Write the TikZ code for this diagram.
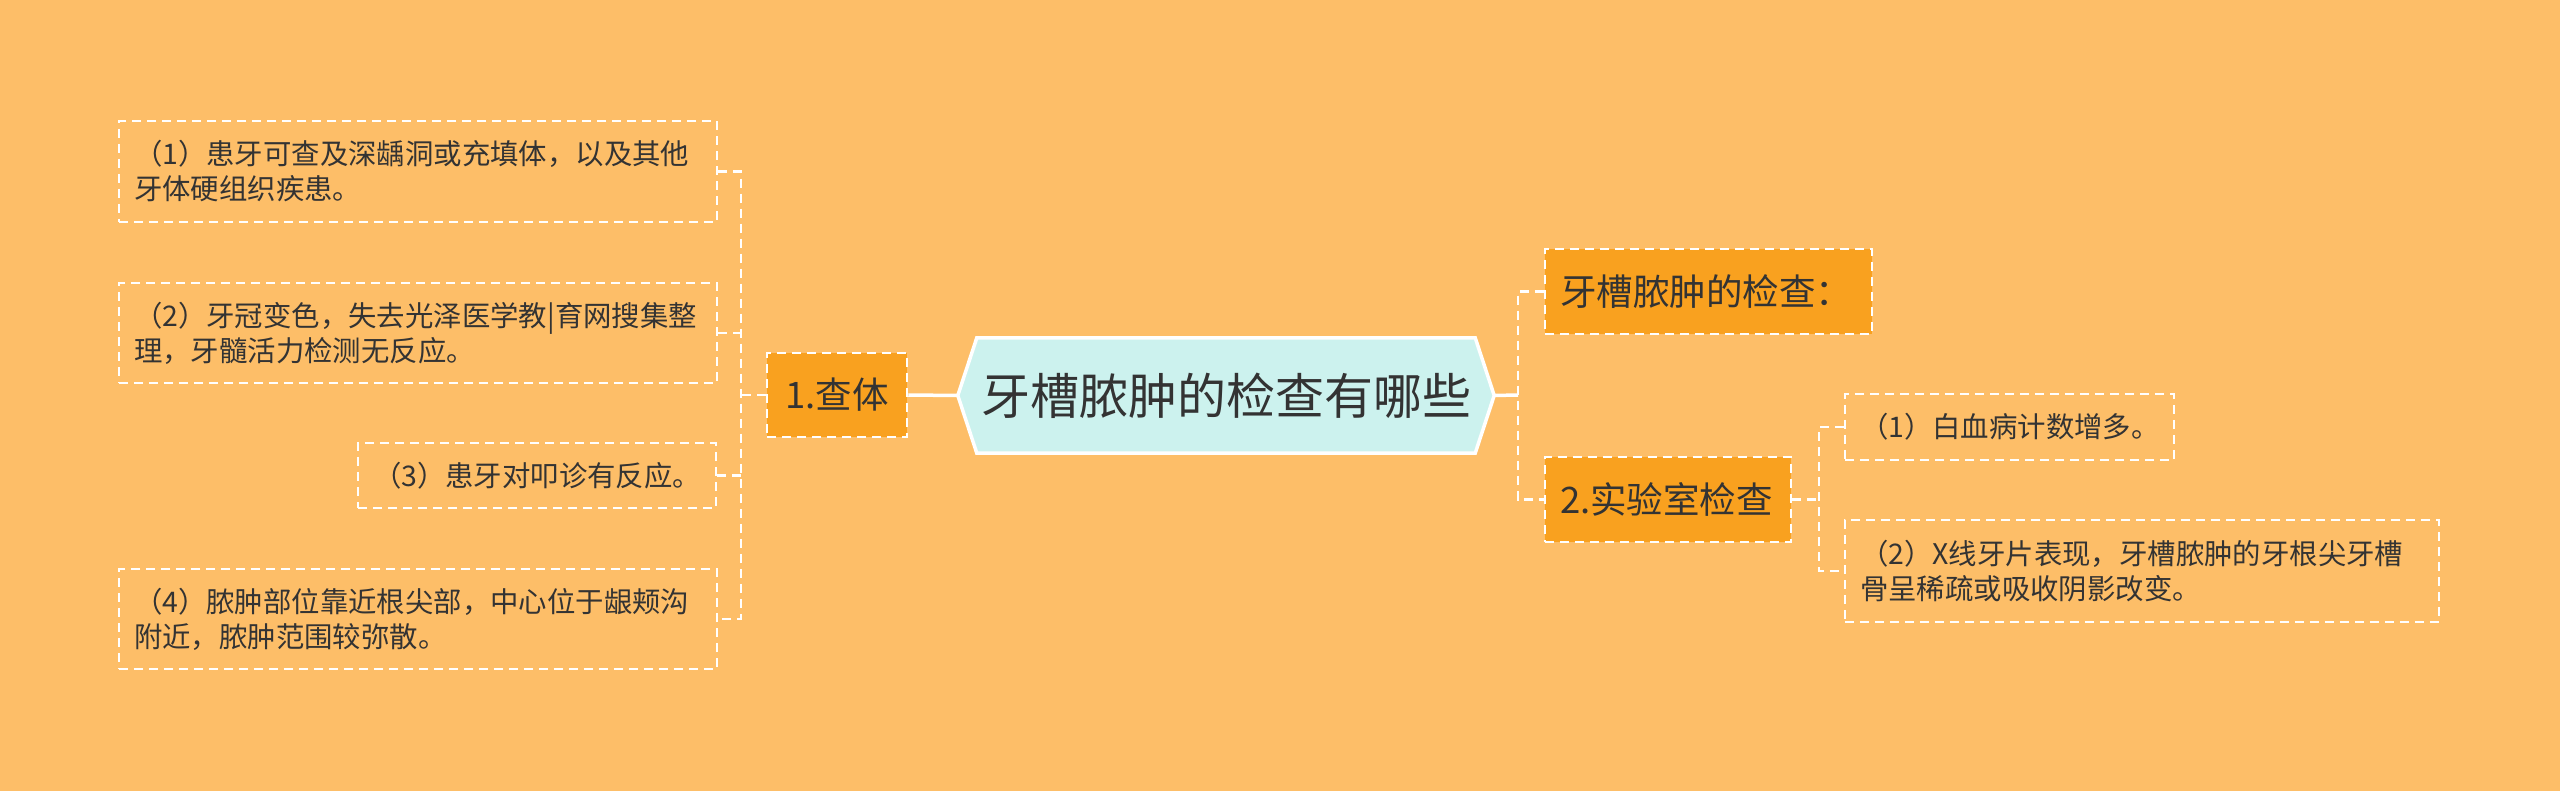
\documentclass[tikz,border=0pt]{standalone}
\usepackage{fontspec}
\setmainfont{Noto Sans CJK SC}
\usetikzlibrary{calc}
\definecolor{bgc}{RGB}{253,190,104}
\definecolor{orangebox}{RGB}{249,161,31}
\definecolor{rootfill}{RGB}{204,242,238}
\definecolor{txt}{RGB}{51,51,51}
\tikzset{
  conn/.style={draw=white, line width=2.5pt, dash pattern=on 9pt off 6pt},
  solidconn/.style={draw=white, line width=3.5pt},
  leaf/.style={draw=white, line width=2.5pt, dash pattern=on 9pt off 6pt, text=txt,
    font=\fontsize{28.4}{35}\selectfont, align=left, inner xsep=15pt, inner ysep=0pt},
  topic/.style={draw=white, fill=orangebox, line width=2.5pt, dash pattern=on 9pt off 6pt, text=txt,
    font=\fontsize{36.5}{42}\selectfont, align=left, inner xsep=15pt, inner ysep=0pt},
}
\begin{document}
\begin{tikzpicture}[x=1pt,y=-1pt]
\fill[bgc] (0,0) rectangle (2560,791);
\useasboundingbox (0,0) rectangle (2560,791);

% root hexagon
\node[minimum width=536pt, minimum height=115pt, inner sep=0pt] (root) at (1226,395.5) {};
\filldraw[fill=rootfill, draw=white, line width=3.5pt, line join=miter]
  (root.west) -- ($(root.north west)+(19,0)$) -- ($(root.north east)+(-19,0)$) -- (root.east)
  -- ($(root.south east)+(-19,0)$) -- ($(root.south west)+(19,0)$) -- cycle;
\node[text=txt, font=\fontsize{49}{58}\selectfont] (roottext) at (root.center) {牙槽脓肿的检查有哪些};

% left side
\node[topic, minimum width=140pt, minimum height=84pt, text width=110pt, align=center] (a) at (837,395) {1.查体};
\node[leaf, minimum width=598pt, minimum height=101pt, text width=568pt] (l1) at (418,171.5)
  {（1）患牙可查及深龋洞或充填体，以及其他\\牙体硬组织疾患。};
\node[leaf, minimum width=598pt, minimum height=100pt, text width=568pt] (l2) at (418,333)
  {（2）牙冠变色，失去光泽医学教|育网搜集整\\理，牙髓活力检测无反应。};
\node[leaf, minimum width=358pt, minimum height=65pt, text width=328pt] (l3) at (537,475.5)
  {（3）患牙对叩诊有反应。};
\node[leaf, minimum width=598pt, minimum height=100pt, text width=568pt] (l4) at (418,619)
  {（4）脓肿部位靠近根尖部，中心位于龈颊沟\\附近，脓肿范围较弥散。};

% right side
\node[topic, minimum width=327pt, minimum height=85pt, text width=297pt] (b) at (1708.5,291.5) {牙槽脓肿的检查：};
\node[topic, minimum width=246pt, minimum height=85pt, text width=216pt] (c) at (1668,499.5) {2.实验室检查};
\node[leaf, minimum width=329pt, minimum height=66pt, text width=299pt] (s1) at (2009.5,427) {（1）白血病计数增多。};
\node[leaf, minimum width=594pt, minimum height=102pt, text width=564pt] (s2) at (2142,571)
  {（2）X线牙片表现，牙槽脓肿的牙根尖牙槽\\骨呈稀疏或吸收阴影改变。};

% junctions
\coordinate (lj) at (741,395);
\coordinate (rj) at (1518,395);
\coordinate (sj) at (1819,499.5);

% connectors
\draw[solidconn] (a.east) -- (root.west);
\draw[solidconn] (root.east) -- (rj);
\draw[conn] (a.west) -- (a.west -| lj);
\draw[conn] (l1.east) -- (l1.east -| lj) -- (l4.east -| lj) -- (l4.east);
\draw[conn] (l2.east) -- (l2.east -| lj);
\draw[conn] (l3.east) -- (l3.east -| lj);
\draw[conn] (b.west) -- (b.west -| rj) -- (c.west -| rj) -- (c.west);
\draw[conn] (c.east) -- (c.east -| sj);
\draw[conn] (s1.west) -- (s1.west -| sj) -- (s2.west -| sj) -- (s2.west);
\end{tikzpicture}
\end{document}
